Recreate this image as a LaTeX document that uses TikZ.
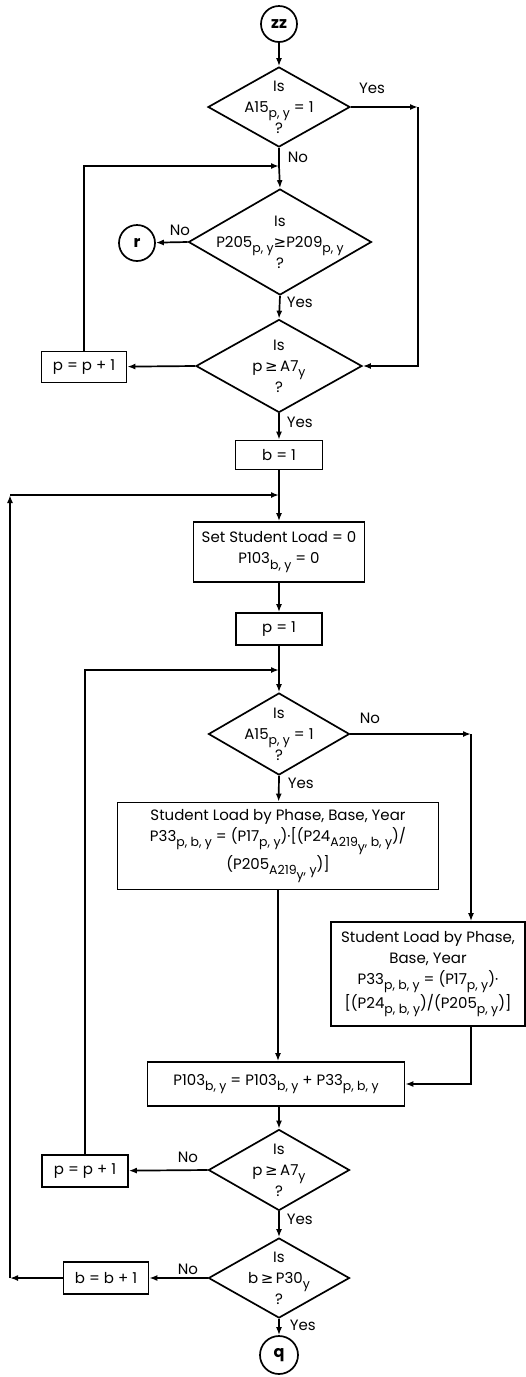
\documentclass[tikz,border=0pt]{standalone}
\usepackage{fontspec}
\setmainfont{Poppins}
\newfontfamily\symfont{DejaVu Sans}
\usetikzlibrary{arrows.meta,positioning,shapes.geometric}
\newcommand{\sbs}[1]{\raisebox{-0.65ex}{\fontsize{12.5}{12.5}\selectfont #1}}
\newcommand{\gee}{{\symfont ≥}}

\begin{document}
\begin{tikzpicture}[x=1pt, y=-1pt,
  font=\fontsize{15}{21}\selectfont,
  line width=1.7pt,
  box/.style={draw, rectangle, align=center, inner sep=1pt},
  dec/.style 2 args={diamond, draw, inner sep=0pt, minimum width=#1, minimum height=#2},
  txt/.style={align=center, inner sep=0pt},
  conn/.style={draw, circle, inner sep=0pt, minimum size=36pt, font=\fontsize{16}{18}\selectfont\bfseries},
  lbl/.style={inner sep=0pt},
  arr/.style={-{Latex[length=8pt,width=6pt]}}]
  \useasboundingbox (0,0) rectangle (526,1377);
  % top part
  \node[conn] (zz) at (279,24) {zz};
  \node[dec={142pt}{80pt}, label={[txt]center:{Is\\A15\sbs{p, y} = 1\\?}}] (d1) at (279,107) {};
  \node[dec={183pt}{106pt}, label={[txt]center:{Is\\P205\sbs{p, y}\gee P209\sbs{p, y}\\?}}] (d2) at (280,242) {};
  \node[conn] (r) at (137,243) {r};
  \node[dec={166pt}{93pt}, label={[txt]center:{Is\\p\,\gee\,A7\sbs{y}\\?}}] (d3) at (279,366) {};
  \node[box, minimum width=85pt, minimum height=31pt] (pp1) at (84,367) {p = p + 1};
  \node[box, minimum width=87pt, minimum height=29pt] (b1) at (279,455) {b = 1};
  \node[box, minimum width=171pt, minimum height=60pt] (set) at (279,552) {Set Student Load = 0\\P103\sbs{b, y} = 0};
  \node[box, minimum width=86pt, minimum height=32pt] (p1) at (279,629) {p = 1};
  % inner loop
  \node[dec={141pt}{82pt}, label={[txt]center:{Is\\A15\sbs{p, y} = 1\\?}}] (d4) at (279,734) {};
  \node[box, minimum width=321pt, minimum height=87pt] (lbox) at (278,846)
    {Student Load by Phase, Base, Year\\P33\sbs{p, b, y} = (P17\sbs{p, y})·[(P24\sbs{A219\sbs{y}, b, y})/\\(P205\sbs{A219\sbs{y}, y})]};
  \node[box, minimum width=194pt, minimum height=104pt, inner sep=0pt] (rbox) at (428,974)
    {Student Load by Phase,\\Base, Year\\P33\sbs{p, b, y} = (P17\sbs{p, y})·\\{}[(P24\sbs{p, b, y})/(P205\sbs{p, y})]};
  \node[box, minimum width=257pt, minimum height=44pt] (p103) at (276,1084)
    {P103\sbs{b, y} = P103\sbs{b, y} + P33\sbs{p, b, y}};
  \node[dec={141pt}{81pt}, label={[txt]center:{Is\\p\,\gee\,A7\sbs{y}\\?}}] (d5) at (279,1170) {};
  \node[box, minimum width=86pt, minimum height=32pt] (pp2) at (85,1171) {p = p + 1};
  \node[dec={141pt}{80pt}, label={[txt]center:{Is\\b\,\gee\,P30\sbs{y}\\?}}] (d6) at (279,1278) {};
  \node[box, minimum width=85pt, minimum height=32pt] (bb1) at (106,1278) {b = b + 1};
  \node[conn, minimum size=38pt] (q) at (279,1355) {q};
  % yes / no
  \node[lbl] (y1) at (372,88) {Yes};
  \node[lbl, anchor=west] (n1) at (287,157) {No};
  \node[lbl] (n2) at (180,230) {No};
  \node[lbl, anchor=west] (y2) at (286,302) {Yes};
  \node[lbl, anchor=west] (y3) at (286,422) {Yes};
  \node[lbl] (n4) at (370,718) {No};
  \node[lbl, anchor=west] (y4) at (287,783) {Yes};
  \node[lbl] (n5) at (188,1157) {No};
  \node[lbl, anchor=west] (y5) at (286,1219) {Yes};
  \node[lbl] (n6) at (188,1269) {No};
  \node[lbl, anchor=west] (y6) at (289,1325) {Yes};
  % corners and junctions
  \coordinate (c1) at (418,107);
  \coordinate (j1) at (279,166);
  \coordinate (j2) at (279,495);
  \coordinate (j3) at (279,670);
  \coordinate (c2) at (471,734);
  \coordinate (c4) at (10,1278);
  \coordinate (c5) at (10,495);
  % connectors
  \draw[arr] (zz) -- (d1);
  \draw[arr] (d1.east) -- (c1);
  \draw[arr] (c1) |- (d3.east);
  \draw (d1.south) -- (j1);
  \draw[arr] (j1) -- (d2.north);
  \draw[arr] (pp1.north) |- (j1);
  \draw[arr] (d2.west) -- (r);
  \draw[arr] (d2.south) -- (d3.north);
  \draw[arr] (d3.west) -- (pp1);
  \draw[arr] (d3.south) -- (b1);
  \draw (b1) -- (j2);
  \draw[arr] (j2) -- (set);
  \draw[arr] (set) -- (p1);
  \draw (p1) -- (j3);
  \draw[arr] (j3) -- (d4.north);
  \draw[arr] (d4.east) -- (c2);
  \draw[arr] (c2) -- (c2 |- rbox.north);
  \draw[arr] (d4.south) -- (lbox);
  \draw[arr] (rbox.south -| c2) |- (p103.east);
  \draw[arr] (lbox.south) -- (lbox.south |- p103.north);
  \draw[arr] (d5 |- p103.south) -- (d5.north);
  \draw[arr] (d5.west) -- (pp2);
  \draw[arr] (pp2.north) |- (j3);
  \draw[arr] (d5.south) -- (d6.north);
  \draw[arr] (d6.west) -- (bb1);
  \draw[arr] (bb1.west) -- (c4);
  \draw[arr] (c4) -- (c5);
  \draw[arr] (c5) -- (j2);
  \draw[arr] (d6.south) -- (q);
\end{tikzpicture}
\end{document}
